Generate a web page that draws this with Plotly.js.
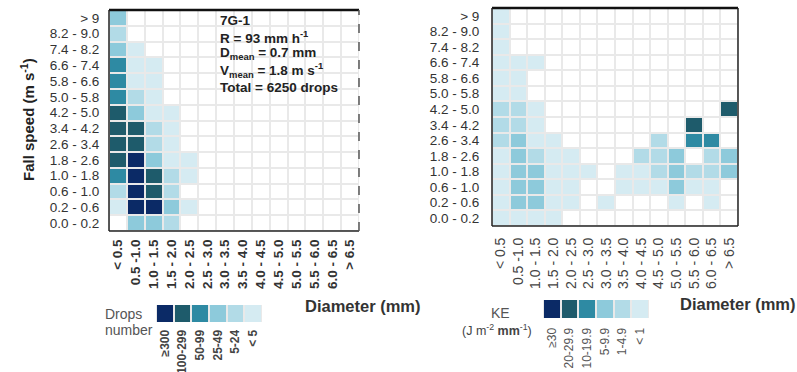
<!DOCTYPE html>
<html><head><meta charset="utf-8">
<script src="https://cdn.plot.ly/plotly-3.0.1.min.js"></script>
<style>html,body{margin:0;padding:0;background:#fff;}#chart{width:797px;height:372px;}</style>
</head><body><div id="chart"></div>
<script>
// Category labels
const diameterLabels = ["< 0.5","0.5 -1.0","1.0 - 1.5","1.5 - 2.0","2.0 - 2.5","2.5 - 3.0","3.0 - 3.5","3.5 - 4.0","4.0 - 4.5","4.5 - 5.0","5.0 - 5.5","5.5 - 6.0","6.0 - 6.5","> 6.5"];
const speedLabels = ["0.0 - 0.2","0.2 - 0.6","0.6 - 1.0","1.0 - 1.8","1.8 - 2.6","2.6 - 3.4","3.4 - 4.2","4.2 - 5.0","5.0 - 5.8","5.8 - 6.6","6.6 - 7.4","7.4 - 8.2","8.2 - 9.0","> 9"];

// Class legends (class index 1..6 shown in legend order, 0 = empty cell)
const dropClasses = ["≥300","100-299","50-99","25-49","5-24","< 5"];
const keClasses = ["≥30","20-29.9","10-19.9","5-9.9","1-4.9","< 1"];
const legendClassIndex = [6,5,4,3,2,1];
const classColors = ["#ffffff","#d5ebf2","#b2dbe7","#8dcadb","#2e8aa3","#1e5b6b","#0b2a66"];

// Drops number class per cell (rows: fall speed bottom->top, cols: diameter)
const dropsClass = [
  [0,3,3,2,0,0,0,0,0,0,0,0,0,0],
  [1,6,6,3,1,0,0,0,0,0,0,0,0,0],
  [2,6,5,2,0,0,0,0,0,0,0,0,0,0],
  [4,6,5,2,1,0,0,0,0,0,0,0,0,0],
  [5,6,3,1,1,0,0,0,0,0,0,0,0,0],
  [5,5,2,1,0,0,0,0,0,0,0,0,0,0],
  [5,5,2,1,0,0,0,0,0,0,0,0,0,0],
  [5,3,1,1,0,0,0,0,0,0,0,0,0,0],
  [4,2,1,0,0,0,0,0,0,0,0,0,0,0],
  [4,1,1,0,0,0,0,0,0,0,0,0,0,0],
  [4,1,1,0,0,0,0,0,0,0,0,0,0,0],
  [3,1,0,0,0,0,0,0,0,0,0,0,0,0],
  [2,0,0,0,0,0,0,0,0,0,0,0,0,0],
  [3,0,0,0,0,0,0,0,0,0,0,0,0,0]
];
// Kinetic energy class per cell
const keClass = [
  [1,1,1,1,0,0,0,0,0,0,0,0,0,0],
  [1,3,3,1,1,0,1,0,0,0,1,0,1,0],
  [1,3,3,1,1,0,0,1,1,1,3,1,1,0],
  [1,3,3,1,1,1,0,1,1,2,3,2,2,3],
  [1,3,2,1,1,0,0,0,2,2,3,0,2,3],
  [2,3,1,1,0,0,0,0,0,2,0,4,4,0],
  [2,2,1,0,0,0,0,0,0,0,0,5,0,0],
  [2,2,1,0,0,0,0,0,0,0,0,0,0,5],
  [1,1,0,0,0,0,0,0,0,0,0,0,0,0],
  [1,1,0,0,0,0,0,0,0,0,0,0,0,0],
  [1,1,1,0,0,0,0,0,0,0,0,0,0,0],
  [1,0,0,0,0,0,0,0,0,0,0,0,0,0],
  [1,0,0,0,0,0,0,0,0,0,0,0,0,0],
  [1,0,0,0,0,0,0,0,0,0,0,0,0,0]
];

const W=797,H=372;
const px=(v)=>v/W, py=(v)=>(H-v)/H;
const cs=[];
for(let k=0;k<7;k++){cs.push([k/7,classColors[k]]);cs.push([(k+1)/7,classColors[k]]);}
const font='Liberation Sans, Arial, sans-serif';

const common={type:'heatmap',colorscale:cs,zmin:-0.5,zmax:6.5,showscale:false,hoverinfo:'skip'};
const leftT=Object.assign({},common,{x:diameterLabels,y:speedLabels,z:dropsClass,xgap:2,ygap:2,xaxis:'x',yaxis:'y'});
const rightT=Object.assign({},common,{x:diameterLabels,y:speedLabels,z:keClass,xgap:2,ygap:2,xaxis:'x2',yaxis:'y2'});
const legL=Object.assign({},common,{x:dropClasses,y:['a'],z:[legendClassIndex],xgap:2,xaxis:'x3',yaxis:'y3'});
const legR=Object.assign({},common,{x:keClasses,y:['a'],z:[legendClassIndex],xgap:2,xaxis:'x4',yaxis:'y4'});

const clear='rgba(0,0,0,0)';
const xbase={type:'category',showgrid:false,zeroline:false,showline:false,ticks:'outside',tickcolor:clear,tickangle:-90,fixedrange:true,tickmode:'array'};
const ybase={type:'category',showgrid:false,zeroline:false,showline:false,ticks:'outside',tickcolor:clear,fixedrange:true,tickmode:'array',tickangle:0};

function borders(xn,yn,rightDash){
  const d=xn+' domain', e=yn+' domain';
  return [
    {type:'line',xref:d,yref:e,x0:0,x1:1,y0:1,y1:1,line:{color:'#111',width:2.5}},
    {type:'line',xref:d,yref:e,x0:0,x1:1,y0:0,y1:0,line:{color:'#222',width:1.5}},
    {type:'line',xref:d,yref:e,x0:0,x1:0,y0:0,y1:1,line:{color:'#222',width:1.5}},
    {type:'line',xref:d,yref:e,x0:1,x1:1,y0:0,y1:1,line:{color:rightDash?'#555':'#222',width:1.5,dash:rightDash?'dash':'solid'}}
  ];
}
function txt(x,y,text,size,opts){
  return Object.assign({xref:'paper',yref:'paper',x:px(x),y:py(y),xanchor:'left',yanchor:'middle',showarrow:false,text:text,font:{size:size,color:'#222'}},opts||{});
}

const layout={
  width:W,height:H,margin:{l:0,r:0,t:0,b:0},paper_bgcolor:'#fff',plot_bgcolor:'#e9e9e9',
  font:{family:font,color:'#333'},
  xaxis:Object.assign({},xbase,{domain:[px(109),px(359)],anchor:'y',tickvals:diameterLabels,ticktext:diameterLabels,ticklen:2,tickfont:{size:13.5,color:'#333',weight:'bold'}}),
  yaxis:Object.assign({},ybase,{domain:[py(231),py(10)],anchor:'x',tickvals:speedLabels,ticktext:speedLabels,ticklen:6,tickfont:{size:13.5,color:'#333'}}),
  xaxis2:Object.assign({},xbase,{domain:[px(492),px(738)],anchor:'y2',tickvals:diameterLabels,ticktext:diameterLabels,ticklen:5,tickfont:{size:14,color:'#444'}}),
  yaxis2:Object.assign({},ybase,{domain:[py(226),py(8)],anchor:'x2',tickvals:speedLabels,ticktext:speedLabels,ticklen:9,tickfont:{size:13.5,color:'#333'}}),
  xaxis3:Object.assign({},xbase,{domain:[px(156),px(262)],anchor:'y3',tickvals:dropClasses,ticktext:dropClasses,ticklen:2,tickfont:{size:12,color:'#444',weight:'bold'}}),
  yaxis3:Object.assign({},ybase,{domain:[py(322),py(305)],anchor:'x3',showticklabels:false}),
  xaxis4:Object.assign({},xbase,{domain:[px(543),px(649)],anchor:'y4',tickvals:keClasses,ticktext:keClasses,ticklen:4,tickfont:{size:12,color:'#555'}}),
  yaxis4:Object.assign({},ybase,{domain:[py(318),py(300)],anchor:'x4',showticklabels:false}),
  shapes:borders('x','y',true).concat(borders('x2','y2',false)),
  annotations:[
    txt(27,120,'Fall speed (m s<sup>-1</sup>)',15,{xanchor:'center',textangle:-90,font:{size:15,color:'#222',weight:'bold'}}),
    txt(218,21,'7G-1',13.5,{font:{size:13.5,color:'#222',weight:'bold'}}),
    txt(218,37,'R = 93 mm h<sup>-1</sup>',13.5,{font:{size:13.5,color:'#222',weight:'bold'}}),
    txt(218,54,'D<sub>mean</sub> = 0.7 mm',13.5,{font:{size:13.5,color:'#222',weight:'bold'}}),
    txt(218,70,'V<sub>mean</sub> = 1.8 m s<sup>-1</sup>',13.5,{font:{size:13.5,color:'#222',weight:'bold'}}),
    txt(218,87,'Total = 6250 drops',13.5,{font:{size:13.5,color:'#222',weight:'bold'}}),
    txt(303,306,'Diameter (mm)',16.5,{font:{size:16.5,color:'#333',weight:'bold'}}),
    txt(678,304,'Diameter (mm)',16.5,{font:{size:16.5,color:'#333',weight:'bold'}}),
    txt(103,314,'Drops',14,{font:{size:14,color:'#555'}}),
    txt(103,330,'number',14,{font:{size:14,color:'#555'}}),
    txt(489,313,'KE',14,{font:{size:14,color:'#555'}}),
    txt(534,330,'(J m<sup>-2</sup> <b>mm</b><sup>-1</sup>)',12.5,{xanchor:'right',font:{size:12.5,color:'#444'}})
  ]
};
Plotly.newPlot('chart',[leftT,rightT,legL,legR],layout,{staticPlot:true,displayModeBar:false});
</script>
</body></html>
